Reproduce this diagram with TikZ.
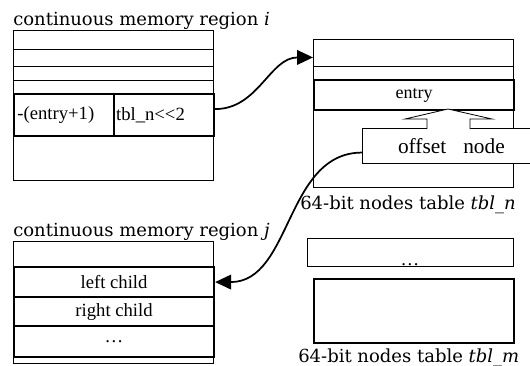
\documentclass[tikz,border=0pt]{standalone}
\usepackage{fontspec}
\setmainfont{Liberation Serif}
\newfontfamily\lblfont{DejaVu Serif}
\usetikzlibrary{arrows.meta}

\begin{document}
\begin{tikzpicture}[
     x=0.75pt,y=-0.75pt,
     cell/.style={draw,line width=0.6pt,inner sep=0pt,anchor=north west,
       minimum width=150pt,font=\fontsize{14}{16}\selectfont},
     cellb/.style={cell,line width=1.6pt},
     lbl/.style={anchor=base west,inner sep=0pt,font=\lblfont\fontsize{13.5}{15}\selectfont},
     ptr/.style={line width=1.3pt,-{Triangle[length=12pt,width=11pt]}}
   ]
   \path[use as bounding box] (0,0) rectangle (530,365);
   \clip (0,0) rectangle (530,365);
   % Region i.
   \node[lbl] (lbli) at (13,25) {continuous memory region \textit{i}};
   \node[cell,minimum height=112.5pt] (regi) at (13,30) {};
   \draw[line width=0.6pt] (13,49) -- (213,49) (13,66) -- (213,66) (13,80) -- (213,80);
   \node[cellb,minimum width=75pt,minimum height=31.5pt,text width=70pt,align=left] (negent) at (13,93) {-(entry+1)};
   \node[cellb,minimum width=75pt,minimum height=31.5pt,text width=72pt,align=left] (tbln) at (113,93) {tbl\_n{<}{<}2};
   % Table n.
   \node[cell,minimum height=111pt] (tabn) at (313,39) {};
   \node[cell,minimum height=20.25pt] (ntop) at (313,39) {};
   \node[cellb,minimum height=22.5pt,font=\fontsize{13.5}{15}\selectfont] (entry) at (313,79) {entry};
   \node[cell,fill=white,minimum width=133.5pt,minimum height=26.25pt,anchor=north west,
     font=\fontsize{16}{18}\selectfont] (ofs) at (362,128) {offset\hspace{0.8em}node};
   \filldraw[line width=0.6pt,fill=white] (427,129) -- (427,119) -- (405,119) -- (448,109)
     -- (492,119) -- (470,119) -- (470,129);
   \node[lbl] (lbln) at (300,209) {64-bit nodes table \textit{tbl\_n}};
   % Region j.
   \node[lbl] (lblj) at (13,236) {continuous memory region \textit{j}};
   \node[cell,minimum height=91.5pt] (regj) at (13,241) {};
   \node[cellb,minimum height=22.5pt] (lc) at (13,266) {left child};
   \node[cellb,minimum height=21.75pt] (rc) at (13,296) {right child};
   \node[cellb,minimum height=23.25pt] (jd) at (13,325) {\dots};
   % Table m.
   \node[cell,minimum width=154.5pt,minimum height=21pt] (dotsbox) at (307,238) {};
   \node[anchor=base,inner sep=0pt,font=\fontsize{14}{16}\selectfont] (dots) at (410,265) {\dots};
   \node[cellb,minimum height=48pt] (tabm) at (313,278) {};
   \node[lbl] (lblm) at (298,362) {64-bit nodes table \textit{tbl\_m}};
   % Pointers.
   \draw[ptr] ([yshift=4.5pt]tbln.east) to[out=0,in=180] ([yshift=-3.4pt]ntop.west);
   \draw[ptr] ([yshift=-5pt]ofs.west) to[out=180,in=0] (lc.east);
 \end{tikzpicture}
\end{document}
